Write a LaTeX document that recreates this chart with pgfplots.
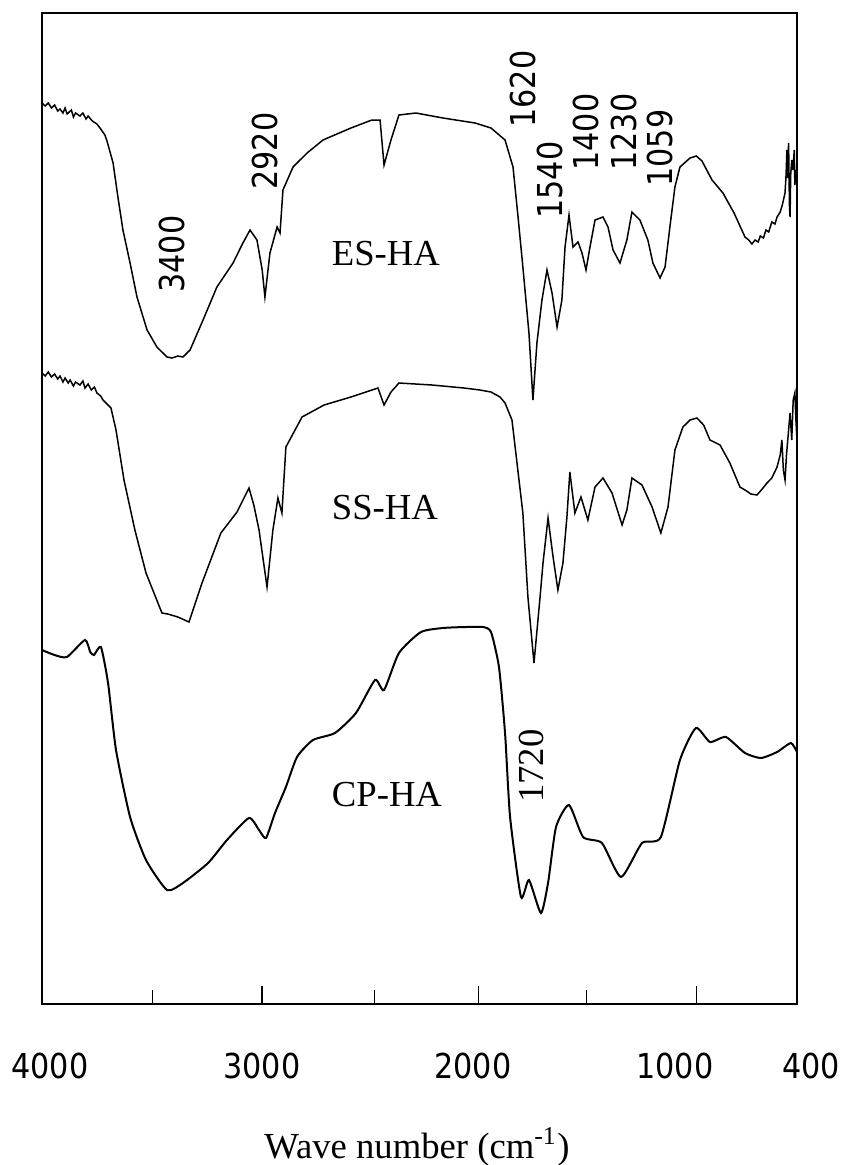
\documentclass[border=0pt]{standalone}
\usepackage{pgfplots}
\pgfplotsset{compat=1.18}
\usepackage{fontspec}
\setmainfont{Liberation Serif}
\newfontfamily\numfont[FakeStretch=0.88]{DejaVu Sans}
\begin{document}
\begin{tikzpicture}
\begin{axis}[
  name=ax,
  scale only axis,
  width=226.5pt, height=297.3pt,
  x dir=reverse, y dir=reverse,
  xmin=400, xmax=4000, ymin=13, ymax=1004,
  xtick={2951,1918,878},
  minor xtick={3472,2415,1403},
  xticklabel=\empty,
  ytick=\empty,
  xtick pos=bottom,
  tick align=inside,
  major tick length=5.4pt,
  minor tick length=4.2pt,
  every tick/.style={black, line width=0.45pt},
  axis line style={black, line width=0.6pt},
]
% ES-HA
\addplot[black, line width=0.45pt] coordinates {
(4000,103) (3985,106) (3970,103) (3955,108) (3940,105) (3925,111) (3914,109) (3900,113) (3890,108)
(3880,114) (3860,110) (3850,117) (3840,113) (3819,116) (3805,113) (3790,119) (3780,116) (3760,121)
(3738,124) (3720,129) (3700,135) (3690,141) (3661,163) (3638,197) (3614,230) (3580,263) (3547,297)
(3499,330) (3452,347) (3404,357) (3380,358) (3352,356) (3328,357) (3294,350) (3232,320) (3166,287)
(3089,263) (3042,243) (3008,230) (2975,240) (2950,270) (2937,297) (2925,275) (2913,253) (2879,227)
(2865,233) (2851,190) (2803,167) (2736,153) (2660,140) (2627,137) (2527,128) (2427,120) (2388,120)
(2369,165) (2336,140) (2298,115) (2217,113) (2088,118) (1935,123) (1859,128) (1792,140) (1754,167)
(1730,217) (1707,267) (1678,333) (1659,400) (1640,343) (1616,300) (1592,270) (1568,293) (1544,327)
(1521,300) (1506,247) (1487,215) (1468,247) (1444,242) (1425,253) (1406,270) (1387,247) (1363,220)
(1325,217) (1301,227) (1277,250) (1244,263) (1211,240) (1187,212) (1149,220) (1111,240) (1087,263)
(1053,278) (1029,267) (1006,227) (982,187) (958,167) (910,158) (880,156) (853,161) (805,180) (753,193)
(700,213) (648,237) (630,240) (615,244) (600,240) (585,242) (575,236) (560,238) (548,230) (535,232)
(520,222) (505,224) (495,217) (480,212) (470,205) (457,193) (452,175) (448,150) (445,178) (440,143)
(436,205) (433,217) (430,175) (425,160) (419,170) (413,150) (410,185) (405,170) (400,180)
};
% SS-HA
\addplot[black, line width=0.45pt] coordinates {
(4000,373) (3985,376) (3970,372) (3955,377) (3940,374) (3925,379) (3914,376) (3900,382) (3890,378)
(3875,383) (3866,380) (3850,386) (3840,382) (3819,385) (3805,381) (3795,388) (3780,384) (3765,390)
(3750,387) (3738,393) (3720,396) (3709,400) (3690,404) (3671,408) (3647,430) (3609,480) (3557,530)
(3504,573) (3428,613) (3400,614) (3352,617) (3299,622) (3237,583) (3147,533) (3070,512) (3013,488)
(2990,505) (2965,530) (2927,587) (2899,530) (2875,498) (2856,513) (2837,447) (2760,417) (2655,405)
(2527,397) (2398,388) (2369,405) (2336,392) (2298,383) (2140,385) (1988,388) (1912,390) (1859,392)
(1816,397) (1792,403) (1759,420) (1735,463) (1707,513) (1683,597) (1654,663) (1625,597) (1611,563)
(1587,518) (1563,557) (1540,590) (1516,563) (1497,517) (1483,472) (1459,513) (1430,497) (1397,520)
(1363,487) (1325,478) (1282,493) (1234,525) (1211,510) (1187,478) (1139,485) (1091,507) (1049,533)
(1015,507) (982,450) (944,427) (910,420) (877,418) (845,425) (815,440) (767,445) (720,463) (672,487)
(640,491) (620,494) (591,495) (570,490) (543,483) (520,478) (495,467) (480,455) (472,440) (465,470)
(457,480) (450,455) (440,430) (433,413) (425,440) (418,400) (410,393) (405,420) (400,440)
};
% CP-HA
\addplot[black, line width=0.6pt, smooth, tension=0.35] coordinates {
(4000,650) (3940,655) (3881,657) (3795,640) (3770,652) (3752,655) (3719,647) (3685,683) (3647,750)
(3580,817) (3504,860) (3404,890) (3328,883) (3208,863) (3118,840) (3013,818) (2965,830) (2932,838)
(2889,813) (2837,787) (2784,757) (2708,740) (2603,733) (2503,713) (2412,680) (2369,690) (2298,653)
(2193,632) (2088,628) (1980,627) (1897,627) (1859,632) (1821,667) (1792,733) (1768,817) (1716,897)
(1678,880) (1621,913) (1587,883) (1549,827) (1487,805) (1420,837) (1330,843) (1239,877) (1139,843)
(1049,837) (958,760) (882,728) (815,742) (739,737) (648,753) (572,758) (495,752) (429,743) (400,752)
};
% sample names
\node[font=\fontsize{11}{13}\selectfont] at (axis cs:2360,254) {ES-HA};
\node[font=\fontsize{11}{13}\selectfont] at (axis cs:2365,508) {SS-HA};
\node[font=\fontsize{11}{13}\selectfont] at (axis cs:2355,795) {CP-HA};
% peak labels
\node[rotate=90, font=\numfont\fontsize{10.3}{12}\selectfont] at (axis cs:3380,254) {3400};
\node[rotate=90, font=\numfont\fontsize{10.3}{12}\selectfont] at (axis cs:2939,151) {2920};
\node[rotate=90, font=\numfont\fontsize{10.3}{12}\selectfont] at (axis cs:1706,89) {1620};
\node[rotate=90, font=\numfont\fontsize{10.3}{12}\selectfont] at (axis cs:1578,180) {1540};
\node[rotate=90, font=\numfont\fontsize{10.3}{12}\selectfont] at (axis cs:1406,132) {1400};
\node[rotate=90, font=\numfont\fontsize{10.3}{12}\selectfont] at (axis cs:1225,132) {1230};
\node[rotate=90, font=\numfont\fontsize{10.3}{12}\selectfont] at (axis cs:1053,148) {1059};
\node[rotate=90, font=\fontsize{11}{13}\selectfont] at (axis cs:1668,766) {1720};
\end{axis}
% tick labels
\begin{scope}[every node/.style={font=\numfont\fontsize{10.3}{12}\selectfont, inner sep=0pt}]
\node at ([shift={(2.4pt,-18.6pt)}]ax.south west) {4000};
\node at ([shift={(66pt,-18.6pt)}]ax.south west) {3000};
\node at ([shift={(129.3pt,-18.6pt)}]ax.south west) {2000};
\node at ([shift={(189.9pt,-18.6pt)}]ax.south west) {1000};
\node at ([shift={(230.7pt,-18.6pt)}]ax.south west) {400};
\end{scope}
\node[font=\fontsize{11}{13}\selectfont, inner sep=0pt] at ([shift={(112.5pt,-42.9pt)}]ax.south west) {Wave number (cm\textsuperscript{-1})};
\pgfresetboundingbox
\path[use as bounding box] ([shift={(-12.6pt,-48.3pt)}]ax.south west) rectangle ([shift={(14.7pt,3.9pt)}]ax.north east);
\end{tikzpicture}
\end{document}
